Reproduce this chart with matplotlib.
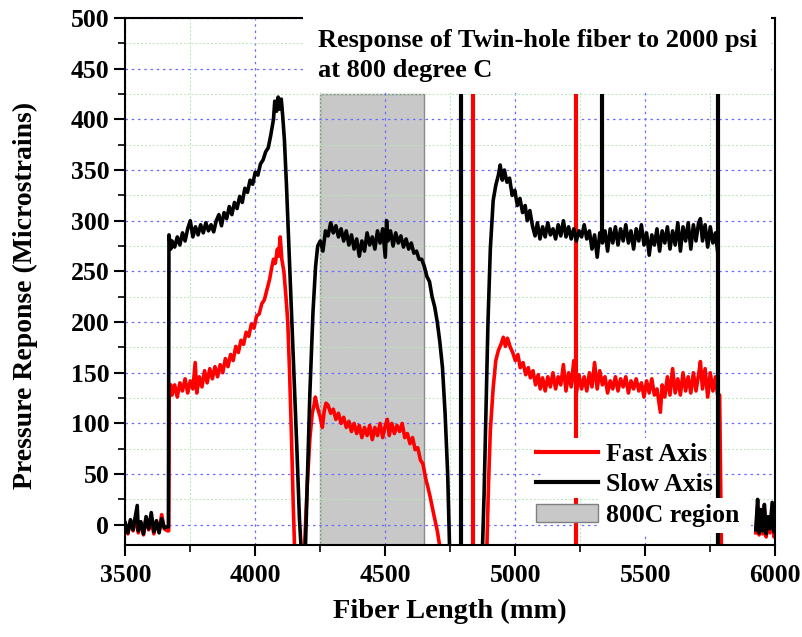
import numpy as np
import matplotlib
matplotlib.use('Agg')
import matplotlib.pyplot as plt
from matplotlib.patches import Rectangle, Patch
from matplotlib.lines import Line2D
from matplotlib.ticker import MultipleLocator

# ---- data ----
nan = np.nan

slow_x = [3500, 3510, 3520, 3530, 3546, 3550, 3560, 3570, 3580, 3590, 3600, 3610, 3620, 3630, 3640, 3650, 3662,
          3666, 3668, 3675, 3680, 3690, 3700, 3710, 3720, 3730, 3740, 3750, 3760, 3770, 3780, 3790, 3800, 3810,
          3820, 3830, 3840, 3850, 3860, 3870, 3880, 3890, 3900, 3910, 3920, 3930, 3940, 3950, 3960, 3970, 3980,
          3990, 4000, 4010, 4020, 4030, 4040, 4050, 4060, 4070, 4075, 4082, 4088, 4095, 4100, 4105, 4112, 4120,
          4130, 4140, 4150, 4160, 4170, 4178, 4184,
          4192, 4200, 4210, 4222, 4232, 4240, 4250, 4260, 4270, 4280, 4290, 4300, 4310, 4320, 4330, 4340, 4350,
          4360, 4370, 4380, 4390, 4400, 4410, 4420, 4430, 4440, 4450, 4460, 4470, 4480, 4490, 4500, 4505, 4510,
          4520, 4530, 4540, 4550, 4560, 4570, 4580, 4590, 4600, 4610, 4620, 4630, 4640, 4650, 4660, 4670, 4680,
          4690, 4700, 4710, 4720, 4730, 4740, 4748, 4760,
          4873, 4880, 4888, 4895, 4904, 4915, 4925, 4935, 4942, 4950, 4958, 4968, 4978, 4988, 4998, 5008, 5018,
          5028, 5038, 5046, 5056, 5066, 5076, 5085, 5095, 5105, 5115, 5125, 5135, 5145, 5155, 5165, 5175, 5185,
          5195, 5205, 5215, 5225, 5235, 5245, 5255, 5265, 5275, 5285, 5295, 5305, 5315, 5325, 5335, 5345, 5355,
          5365, 5375, 5385, 5395, 5405, 5415, 5425, 5435, 5445, 5455, 5465, 5475, 5485, 5495, 5505, 5515, 5525,
          5535, 5545, 5555, 5565, 5575, 5585, 5595, 5605, 5615, 5625, 5635, 5645, 5655, 5665, 5675, 5685, 5695,
          5705, 5712, 5720, 5730, 5740, 5750, 5760, 5770, 5778, 5800,
          5925, 5932, 5938, 5945, 5952, 5958, 5965, 5972, 5980, 5988, 5995, 6000]
slow_y = [2, -8, 5, -5, 19, -6, 3, -9, 8, -4, 12, -7, 4, -8, 6, -3, -2,
          -2, 286, 272, 280, 274, 284, 276, 288, 280, 292, 300, 284, 294, 286, 296, 288, 298,
          290, 296, 289, 300, 306, 295, 308, 302, 314, 306, 318, 312, 324, 318, 332, 328, 340,
          336, 348, 345, 356, 360, 368, 372, 385, 400, 418, 408, 422, 410, 420, 405, 380, 335,
          270, 205, 140, 75, 5, -30, nan,
          -30, 40, 130, 210, 255, 275, 280, 270, 290, 285, 298, 288, 295, 284, 292, 280, 290,
          276, 286, 272, 282, 265, 280, 270, 288, 276, 284, 272, 290, 278, 292, 264, 300, 280,
          290, 275, 288, 278, 285, 274, 282, 272, 278, 268, 270, 262, 262, 255, 245, 240, 225,
          215, 200, 180, 155, 110, 50, -30, nan,
          -30, 30, 120, 200, 272, 320, 335, 345, 355, 340, 350, 338, 342, 325, 330, 315, 322,
          308, 315, 300, 310, 295, 285, 298, 282, 294, 284, 298, 286, 292, 282, 296, 285, 300,
          284, 294, 282, 292, 280, 290, 284, 296, 282, 290, 272, 286, 264, 288, 278, 290, 270,
          292, 278, 294, 276, 292, 280, 296, 278, 290, 272, 292, 280, 296, 276, 288, 266, 286,
          276, 292, 270, 290, 278, 294, 272, 290, 276, 298, 270, 294, 280, 298, 272, 296, 280,
          298, 302, 280, 296, 274, 294, 278, 288, 270, nan,
          -5, 25, -8, 15, -6, 20, -9, 8, -4, 22, -7, 5]

fast_x = [3500, 3510, 3520, 3530, 3540, 3550, 3560, 3570, 3580, 3590, 3600, 3610, 3620, 3630, 3640, 3650, 3662,
          3667, 3669, 3675, 3680, 3690, 3700, 3710, 3720, 3730, 3740, 3750, 3760, 3769, 3775, 3785, 3795, 3805,
          3815, 3825, 3835, 3845, 3855, 3865, 3875, 3885, 3895, 3905, 3915, 3925, 3935, 3945, 3955, 3965, 3975,
          3985, 3995, 4005, 4015, 4025, 4035, 4045, 4055, 4062, 4070, 4077, 4085, 4090, 4096, 4102, 4110, 4118,
          4125, 4132, 4140, 4146, 4152, 4160,
          4188, 4200, 4210, 4219, 4226, 4231, 4240, 4250, 4258, 4265, 4272, 4280, 4290, 4300, 4310, 4320, 4330,
          4340, 4350, 4360, 4370, 4380, 4390, 4400, 4410, 4420, 4430, 4440, 4450, 4460, 4470, 4480, 4490, 4500,
          4508, 4515, 4525, 4535, 4545, 4555, 4565, 4575, 4585, 4595, 4605, 4615, 4625, 4635, 4645, 4655, 4665,
          4673, 4685, 4700, 4715, 4730,
          4890, 4897, 4904, 4915, 4925, 4935, 4945, 4954, 4962, 4970, 4981, 4990, 5000, 5010, 5019, 5030, 5040,
          5050, 5058, 5068, 5078, 5088, 5096, 5105, 5115, 5125, 5135, 5145, 5155, 5165, 5175, 5185, 5195, 5205,
          5215, 5225, 5235, 5245, 5255, 5265, 5275, 5285, 5295, 5305, 5315, 5325, 5335, 5345, 5355, 5365, 5375,
          5385, 5395, 5405, 5415, 5425, 5435, 5445, 5455, 5465, 5475, 5485, 5495, 5505, 5515, 5525, 5535, 5545,
          5558, 5565, 5575, 5585, 5595, 5605, 5615, 5625, 5635, 5645, 5655, 5665, 5675, 5685, 5695, 5705, 5712,
          5720, 5730, 5740, 5750, 5760, 5770, 5778, 5786, 5793, 5800,
          5925, 5932, 5938, 5945, 5952, 5958, 5965, 5972, 5980, 5988, 5995, 6000]
fast_y = [-3, -9, 4, -6, 8, -8, 2, -10, 6, -5, 4, -9, 3, -7, 10, -4, -6,
          -6, 125, 138, 128, 138, 126, 140, 132, 144, 130, 142, 134, 160, 130, 146, 136, 152,
          140, 154, 144, 156, 146, 158, 150, 164, 156, 168, 162, 176, 170, 182, 178, 190, 186,
          198, 194, 206, 208, 218, 222, 232, 242, 252, 262, 258, 272, 265, 284, 262, 250, 225,
          200, 150, 80, 20, -30, nan,
          -30, 40, 85, 110, 118, 126, 115, 106, 96, 112, 120, 118, 110, 114, 104, 110, 100,
          106, 96, 102, 92, 100, 90, 98, 86, 96, 88, 98, 84, 96, 88, 100, 86, 98,
          104, 88, 100, 90, 98, 92, 100, 86, 90, 80, 86, 74, 76, 64, 60, 46, 36,
          27, 12, -6, -30, nan,
          -30, 40, 93, 135, 162, 172, 178, 185, 176, 184, 175, 170, 162, 168, 155, 160, 148,
          155, 145, 152, 138, 148, 134, 145, 132, 146, 136, 150, 134, 146, 138, 158, 132, 150,
          136, 162, 130, 148, 134, 146, 132, 150, 136, 160, 134, 152, 138, 146, 130, 142, 134,
          146, 132, 144, 136, 146, 130, 142, 134, 144, 132, 140, 126, 142, 130, 144, 128, 134,
          111, 138, 126, 146, 128, 154, 130, 144, 128, 150, 132, 146, 130, 150, 132, 148, 161,
          134, 154, 126, 150, 132, 146, 128, 128, -30, nan,
          -8, 18, -10, 12, -9, 16, -12, 5, -8, 16, -12, 2]

# vertical spikes in the traces
slow_spike_x = [4790, 5335, 5781]
slow_spike_top = [425, 425, 425]
slow_spike_bot = [-25, 285, -25]
fast_spike_x = [4838, 5232]
fast_spike_top = [425, 425]
fast_spike_bot = [-25, -25]

region_start, region_end, region_top = 4250, 4650, 425

plt.rcParams['font.family'] = ['Liberation Serif', 'DejaVu Serif']
plt.rcParams['font.weight'] = 'bold'

fig = plt.figure(figsize=(8.03, 6.37), dpi=100)
ax = fig.add_axes([0.156, 0.1444, 0.8095, 0.8273])

# grid
ax.set_axisbelow('line')
ax.xaxis.set_major_locator(MultipleLocator(500))
ax.xaxis.set_minor_locator(MultipleLocator(250))
ax.yaxis.set_major_locator(MultipleLocator(50))
ax.yaxis.set_minor_locator(MultipleLocator(25))
ax.grid(True, which='major', color='#6b6bff', linestyle=(0, (2, 3)), linewidth=0.9)
ax.grid(True, which='minor', color='#b5e8b5', linestyle=(0, (2, 2)), linewidth=0.7)

# 800C region
ax.add_patch(Rectangle((region_start, -30), region_end - region_start, region_top + 30,
                       facecolor='#c8c8c8', edgecolor='#8a8a8a', linewidth=1.0, zorder=1))

ax.plot(fast_x, fast_y, color='#ff0000', linewidth=2.6, zorder=2)
ax.plot(slow_x, slow_y, color='black', linewidth=2.6, zorder=2.1)
ax.vlines(fast_spike_x, fast_spike_bot, fast_spike_top, color='#ff0000', linewidth=3, zorder=2)
ax.vlines(slow_spike_x, slow_spike_bot, slow_spike_top, color='black', linewidth=3, zorder=2.1)

ax.set_xlim(3500, 6000)
ax.set_ylim(-20, 500)

for s in ax.spines.values():
    s.set_linewidth(1.5)
ax.tick_params(which='major', direction='out', length=8, width=1.5, labelsize=18.5, top=False, right=False)
ax.tick_params(which='minor', direction='out', length=5, width=1.2, top=False, right=False)
ax.tick_params(axis='x', pad=6)

ax.set_xlabel('Fiber Length (mm)', fontsize=20.5, fontweight='bold', labelpad=8)
ax.set_ylabel('Pressure Reponse (Microstrains)', fontsize=20, fontweight='bold')
ax.yaxis.set_label_coords(-0.134, 0.474)

# white title box covering top right part of the frame
ax.add_patch(Rectangle((0.274, 0.862), 0.72, 0.16, transform=ax.transAxes,
                       facecolor='white', edgecolor='none', zorder=2.6, clip_on=False))
ax.text(0.297, 0.957, 'Response of Twin-hole fiber to 2000 psi', transform=ax.transAxes,
        fontsize=19, fontweight='bold', zorder=3, va='center')
ax.text(0.297, 0.900, 'at 800 degree C', transform=ax.transAxes,
        fontsize=19, fontweight='bold', zorder=3, va='center')

# white backing behind the legend entries
ax.add_patch(Rectangle((0.64, 0.089), 0.252, 0.114, transform=ax.transAxes,
                       facecolor='white', edgecolor='none', zorder=2.6))
ax.add_patch(Rectangle((0.73, 0.023), 0.232, 0.066, transform=ax.transAxes,
                       facecolor='white', edgecolor='none', zorder=2.6))

handles = [Line2D([], [], color='#ff0000', linewidth=3),
           Line2D([], [], color='black', linewidth=3),
           Patch(facecolor='#c8c8c8', edgecolor='#808080')]
leg = ax.legend(handles, ['Fast Axis', 'Slow Axis', '800C region'], loc='lower right',
                bbox_to_anchor=(0.972, 0.0), frameon=False, fontsize=18.5, handlelength=2.4,
                handletextpad=0.3, labelspacing=0.3, borderpad=0.2)
leg.set_zorder(3)

fig.savefig('out.png', dpi=100)
